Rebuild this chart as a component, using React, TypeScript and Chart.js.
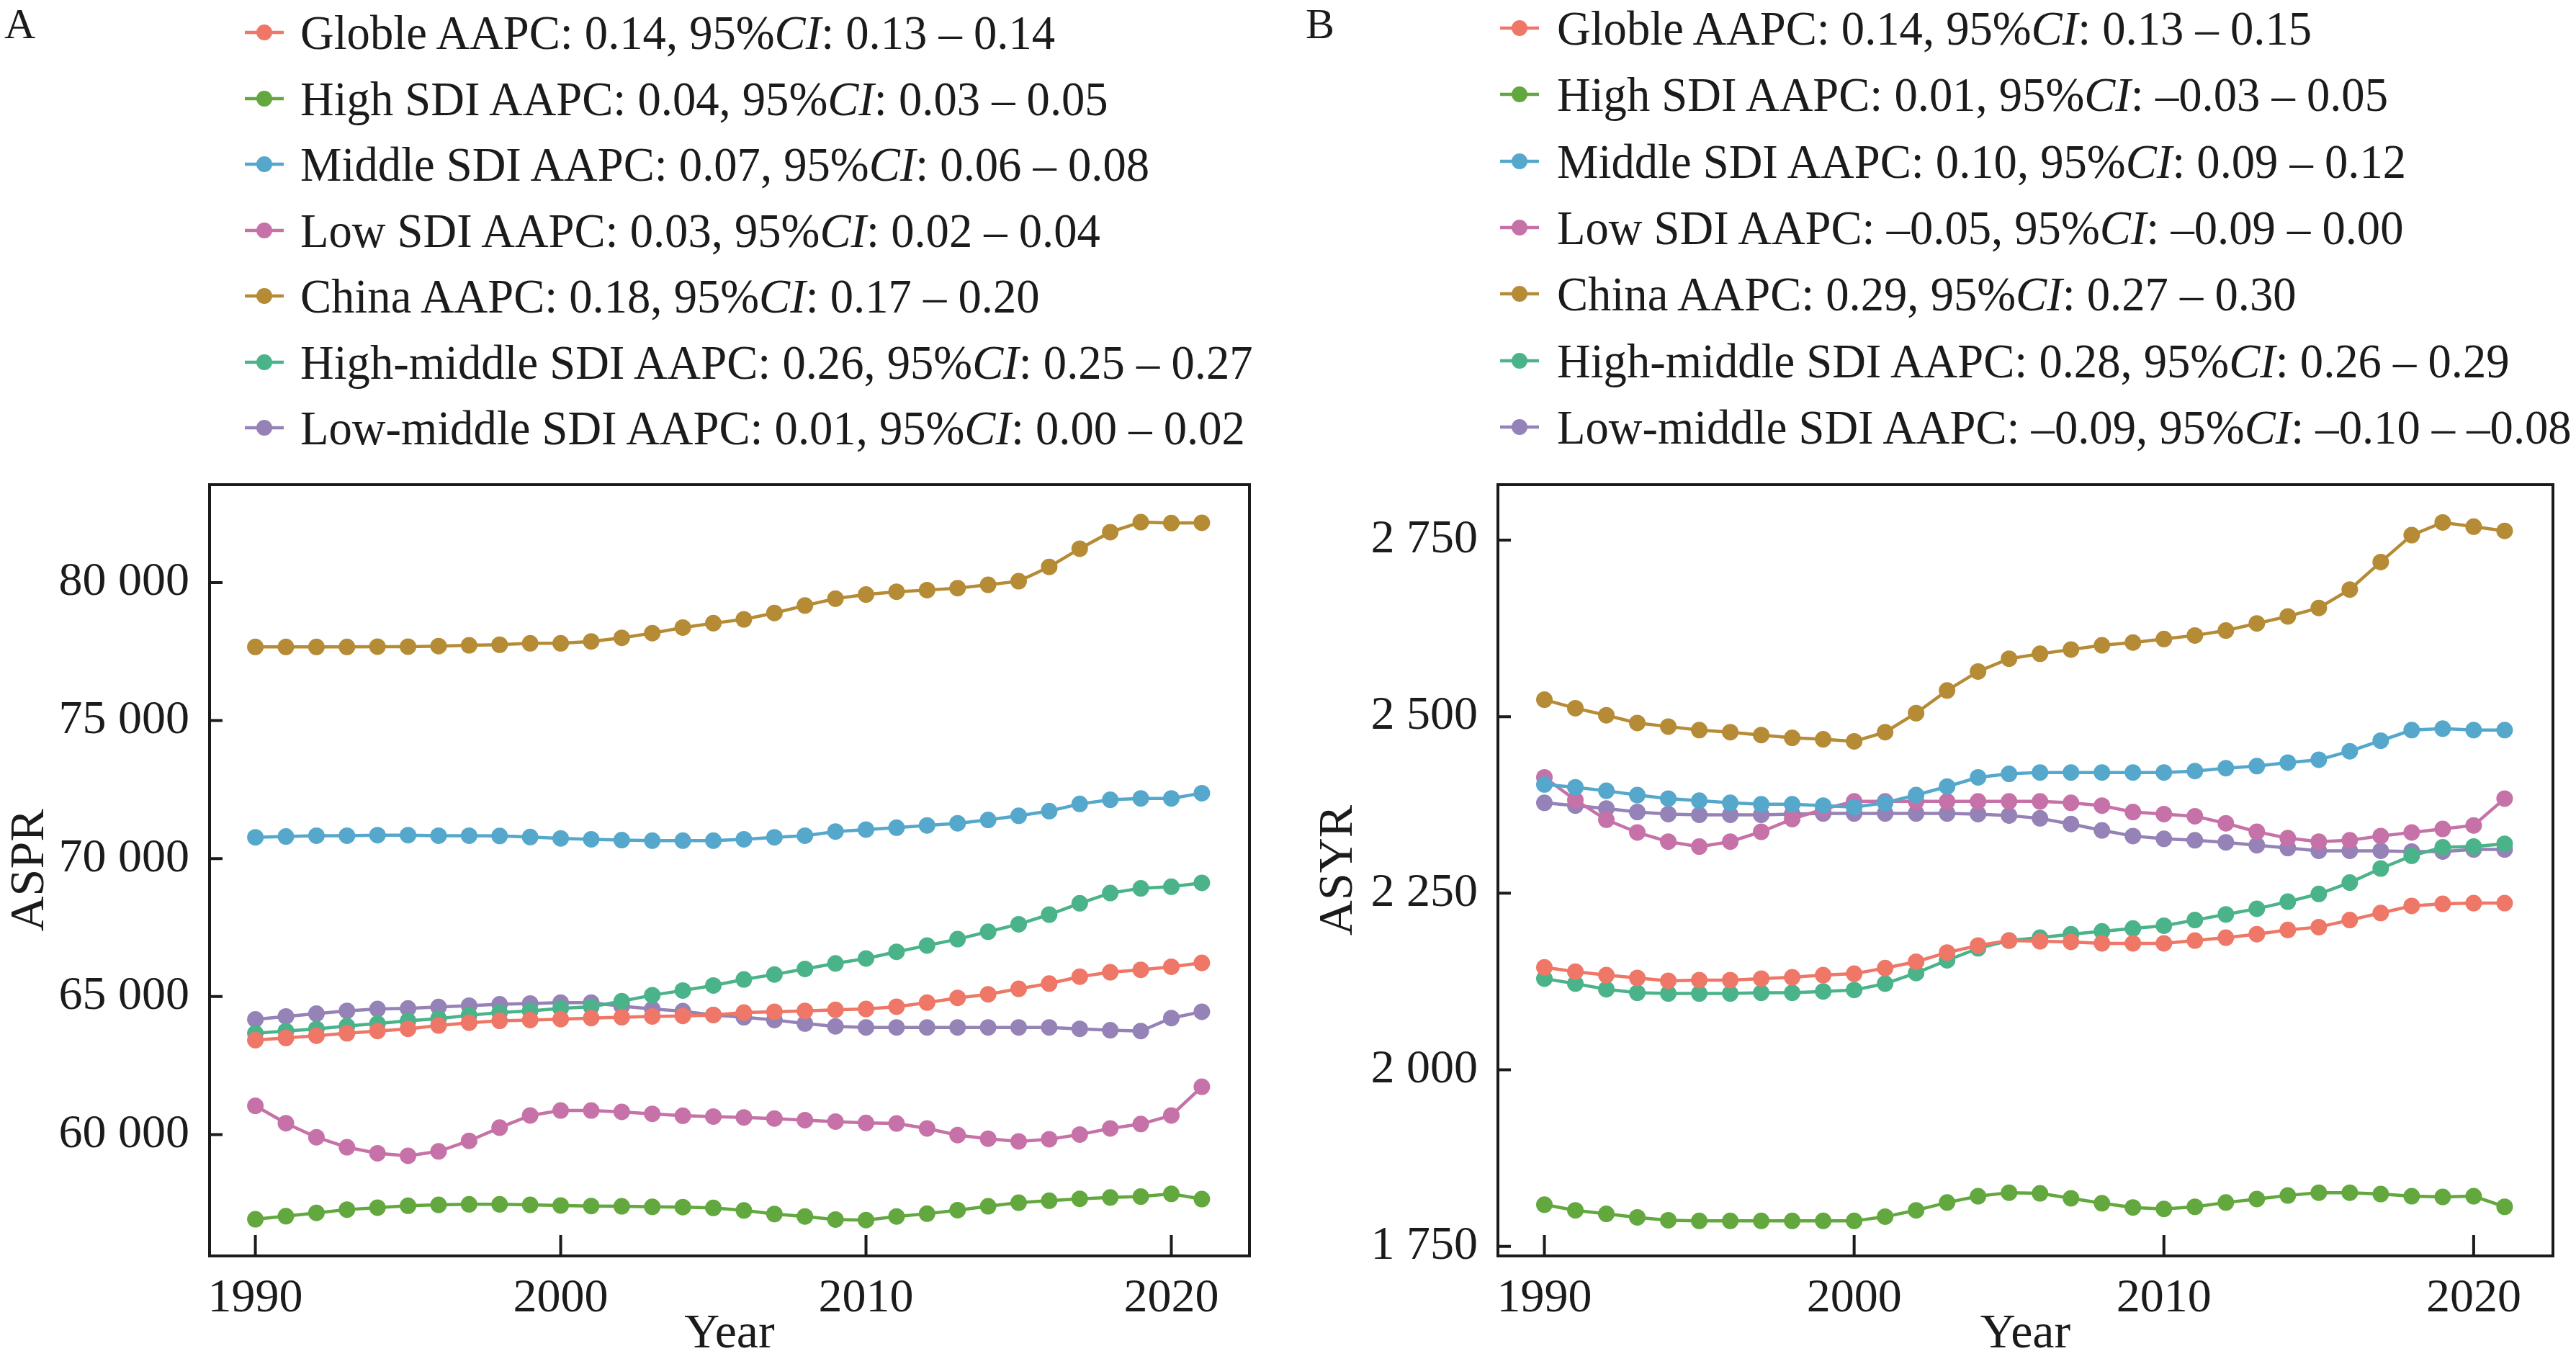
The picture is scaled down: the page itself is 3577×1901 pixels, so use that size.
import React, { useEffect, useRef } from "react";
import { Chart, registerables } from "chart.js";

Chart.register(...registerables);

const FONT = '"Liberation Serif", "Times New Roman", serif';
const INK = "#1c1a1a";

const years = [
  1990, 1991, 1992, 1993, 1994, 1995, 1996, 1997, 1998, 1999,
  2000, 2001, 2002, 2003, 2004, 2005, 2006, 2007, 2008, 2009,
  2010, 2011, 2012, 2013, 2014, 2015, 2016, 2017, 2018, 2019,
  2020, 2021,
];

const seriesNames = ["Globle", "High SDI", "Middle SDI", "Low SDI", "China", "High-middle SDI", "Low-middle SDI"];
const seriesColors = ["#EE7767", "#62A83E", "#55A8CB", "#C672A8", "#B68B35", "#4BB38A", "#9582B6"];

const xTicks = [1990, 2000, 2010, 2020];
const yTicksA = [60000, 65000, 70000, 75000, 80000];
const yTicksB = [1750, 2000, 2250, 2500, 2750];

// Panel A: ASPR
const globalA = [63420, 63500, 63580, 63670, 63750, 63830, 63950, 64050, 64120, 64150, 64180, 64220, 64250, 64280, 64300, 64330, 64420, 64450, 64480, 64520, 64550, 64630, 64780, 64950, 65080, 65280, 65470, 65720, 65880, 65970, 66080, 66220];
const highA = [56930, 57040, 57160, 57280, 57350, 57420, 57450, 57470, 57470, 57450, 57430, 57410, 57400, 57380, 57370, 57340, 57250, 57120, 57030, 56920, 56900, 57030, 57130, 57260, 57400, 57530, 57600, 57670, 57720, 57750, 57850, 57660];
const middleA = [70770, 70800, 70830, 70830, 70850, 70850, 70830, 70830, 70820, 70780, 70730, 70700, 70670, 70650, 70650, 70650, 70700, 70770, 70830, 70980, 71050, 71120, 71200, 71280, 71400, 71550, 71720, 71980, 72130, 72180, 72180, 72370];
const lowA = [61040, 60410, 59900, 59540, 59320, 59230, 59390, 59770, 60250, 60690, 60870, 60870, 60820, 60750, 60680, 60650, 60620, 60580, 60520, 60470, 60420, 60400, 60220, 59980, 59850, 59750, 59830, 60000, 60220, 60380, 60690, 61730];
const chinaA = [77670, 77670, 77670, 77670, 77680, 77680, 77700, 77730, 77750, 77800, 77800, 77870, 78000, 78170, 78370, 78530, 78670, 78900, 79170, 79420, 79570, 79670, 79730, 79800, 79920, 80050, 80570, 81230, 81830, 82190, 82160, 82170];
const highMidA = [63670, 63750, 63830, 63930, 64020, 64120, 64200, 64320, 64420, 64480, 64570, 64630, 64830, 65050, 65220, 65400, 65620, 65800, 66000, 66200, 66380, 66620, 66850, 67080, 67350, 67620, 67970, 68380, 68750, 68920, 68980, 69120];
const lowMidA = [64170, 64280, 64380, 64480, 64550, 64570, 64620, 64670, 64720, 64750, 64780, 64780, 64650, 64550, 64470, 64330, 64250, 64150, 64020, 63920, 63880, 63880, 63880, 63880, 63880, 63880, 63880, 63830, 63780, 63750, 64220, 64450];

// Panel B: ASYR
const globalB = [2145, 2139, 2134, 2130, 2126, 2127, 2127, 2129, 2131, 2134, 2136, 2144, 2153, 2166, 2176, 2183, 2182, 2181, 2179, 2179, 2179, 2183, 2187, 2192, 2198, 2202, 2212, 2222, 2232, 2235, 2236, 2236];
const highB = [1809, 1801, 1796, 1791, 1787, 1786, 1786, 1786, 1786, 1786, 1786, 1792, 1801, 1812, 1821, 1826, 1825, 1818, 1811, 1805, 1803, 1806, 1812, 1817, 1822, 1826, 1826, 1824, 1821, 1820, 1821, 1806];
const middleB = [2404, 2400, 2395, 2389, 2384, 2381, 2378, 2376, 2376, 2374, 2372, 2378, 2389, 2401, 2414, 2419, 2421, 2421, 2421, 2421, 2421, 2423, 2427, 2430, 2435, 2439, 2451, 2466, 2481, 2483, 2481, 2481];
const lowB = [2414, 2382, 2354, 2336, 2323, 2316, 2323, 2337, 2355, 2369, 2380, 2380, 2380, 2380, 2380, 2380, 2380, 2378, 2374, 2365, 2362, 2359, 2349, 2337, 2328, 2323, 2325, 2331, 2336, 2341, 2346, 2384];
const chinaB = [2524, 2512, 2502, 2491, 2486, 2481, 2478, 2474, 2470, 2468, 2465, 2478, 2505, 2537, 2564, 2582, 2589, 2595, 2601, 2605, 2610, 2615, 2622, 2632, 2642, 2654, 2680, 2719, 2757, 2775, 2769, 2763];
const highMidB = [2129, 2122, 2114, 2109, 2108, 2108, 2108, 2109, 2109, 2111, 2113, 2122, 2137, 2155, 2172, 2183, 2187, 2192, 2196, 2200, 2204, 2212, 2220, 2228, 2238, 2249, 2265, 2285, 2303, 2315, 2316, 2320];
const lowMidB = [2378, 2374, 2370, 2365, 2362, 2361, 2361, 2361, 2362, 2363, 2363, 2363, 2363, 2363, 2362, 2360, 2356, 2348, 2339, 2331, 2327, 2325, 2322, 2318, 2314, 2310, 2310, 2310, 2309, 2309, 2312, 2312];

// Legend statistics: AAPC, CI low, CI high
const aapcA = ["0.14", "0.04", "0.07", "0.03", "0.18", "0.26", "0.01"];
const ciLowA = ["0.13", "0.03", "0.06", "0.02", "0.17", "0.25", "0.00"];
const ciHighA = ["0.14", "0.05", "0.08", "0.04", "0.20", "0.27", "0.02"];
const aapcB = ["0.14", "0.01", "0.10", "\u20130.05", "0.29", "0.28", "\u20130.09"];
const ciLowB = ["0.13", "\u20130.03", "0.09", "\u20130.09", "0.27", "0.26", "\u20130.10"];
const ciHighB = ["0.15", "0.05", "0.12", "0.00", "0.30", "0.29", "\u20130.08"];

const seriesA = [globalA, highA, middleA, lowA, chinaA, highMidA, lowMidA];
const seriesB = [globalB, highB, middleB, lowB, chinaB, highMidB, lowMidB];

const fmtThousands = (v: number) => String(Math.round(v)).replace(/\B(?=(\d{3})+(?!\d))/g, " ");

const framePlugin = {
  id: "frameTicks",
  afterDraw(chart: any) {
    const { ctx, chartArea, scales } = chart;
    const { left, right, top, bottom } = chartArea;
    ctx.save();
    ctx.strokeStyle = INK;
    ctx.lineWidth = 4;
    ctx.lineCap = "butt";
    ctx.strokeRect(left, top, right - left, bottom - top);
    ctx.beginPath();
    scales.x.ticks.forEach((t: any) => {
      const x = scales.x.getPixelForValue(t.value);
      ctx.moveTo(x, bottom);
      ctx.lineTo(x, bottom - 29);
    });
    scales.y.ticks.forEach((t: any) => {
      const y = scales.y.getPixelForValue(t.value);
      ctx.moveTo(left, y);
      ctx.lineTo(left + 18, y);
    });
    ctx.stroke();
    ctx.restore();
  },
};

type PanelProps = {
  left: number;
  top: number;
  width: number;
  height: number;
  series: number[][];
  yMin: number;
  yMax: number;
  yTicks: number[];
  yTitle: string;
  padRight: number;
  yWidth: number;
  yTitlePad: number;
};

function Panel(p: PanelProps) {
  const ref = useRef<HTMLCanvasElement>(null);
  useEffect(() => {
    const datasets = p.series.map((vals, i) => ({
      label: seriesNames[i],
      data: vals.map((v, j) => ({ x: years[j], y: v })),
      borderColor: seriesColors[i],
      backgroundColor: seriesColors[i],
      pointBackgroundColor: seriesColors[i],
      pointBorderWidth: 0,
      pointRadius: 11.5,
      pointHoverRadius: 11.5,
      borderWidth: 4.5,
      tension: 0,
      clip: false as any,
    }));
    const chart = new Chart(ref.current as HTMLCanvasElement, {
      type: "line",
      data: { datasets },
      options: {
        responsive: false,
        animation: false,
        devicePixelRatio: 1,
        layout: { padding: { top: 73, right: p.padRight, left: 0, bottom: 0 } },
        plugins: { legend: { display: false }, tooltip: { enabled: false } },
        scales: {
          x: {
            type: "linear",
            min: 1988.5,
            max: 2022.56,
            grid: { display: false },
            border: { display: false },
            afterBuildTicks: (s: any) => {
              s.ticks = xTicks.map((v) => ({ value: v }));
            },
            afterFit: (s: any) => {
              s.height = 157;
            },
            ticks: {
              font: { family: FONT, size: 66 },
              color: INK,
              padding: 12,
              maxRotation: 0,
              autoSkip: false,
              callback: (v: any) => String(v),
            },
            title: {
              display: true,
              text: "Year",
              font: { family: FONT, size: 68 },
              color: INK,
              padding: { top: 0, bottom: 7 },
            },
          },
          y: {
            type: "linear",
            min: p.yMin,
            max: p.yMax,
            grid: { display: false },
            border: { display: false },
            afterBuildTicks: (s: any) => {
              s.ticks = p.yTicks.map((v) => ({ value: v }));
            },
            afterFit: (s: any) => {
              s.width = p.yWidth;
            },
            ticks: {
              font: { family: FONT, size: 66 },
              color: INK,
              padding: 20,
              autoSkip: false,
              callback: (v: any) => fmtThousands(Number(v)),
            },
            title: {
              display: true,
              text: p.yTitle,
              font: { family: FONT, size: 68 },
              color: INK,
              padding: { top: p.yTitlePad, bottom: 0 },
            },
          },
        },
      },
      plugins: [framePlugin],
    });
    return () => chart.destroy();
  }, []);
  return (
    <canvas
      ref={ref}
      width={p.width}
      height={p.height}
      style={{ position: "absolute", left: p.left, top: p.top, width: p.width, height: p.height }}
    />
  );
}

type LegendProps = {
  markerX: number;
  textX: number;
  y0: number;
  step: number;
  aapc: string[];
  lo: string[];
  hi: string[];
};

function Legend(p: LegendProps) {
  return (
    <>
      {seriesNames.map((name, i) => {
        const cy = p.y0 + p.step * i;
        return (
          <React.Fragment key={name}>
            <svg
              width={60}
              height={30}
              style={{ position: "absolute", left: p.markerX - 30, top: cy - 15 }}
            >
              <line x1={3} y1={15} x2={57} y2={15} stroke={seriesColors[i]} strokeWidth={4.5} />
              <circle cx={30} cy={15} r={11} fill={seriesColors[i]} />
            </svg>
            <div
              style={{
                position: "absolute",
                left: p.textX,
                top: cy - 34,
                fontFamily: FONT,
                fontSize: 68,
                lineHeight: "68px",
                color: INK,
                whiteSpace: "nowrap",
                transform: "scaleX(0.95)",
                transformOrigin: "0 50%",
              }}
            >
              {name} AAPC: {p.aapc[i]}, 95%<i>CI</i>: {p.lo[i]} {"\u2013"} {p.hi[i]}
            </div>
          </React.Fragment>
        );
      })}
    </>
  );
}

export default function App() {
  return (
    <div
      style={{
        position: "fixed",
        left: 0,
        top: 0,
        width: 3577,
        height: 1901,
        overflow: "hidden",
        background: "#ffffff",
      }}
    >
      <div style={{ position: "absolute", left: 6, top: 3, fontFamily: FONT, fontSize: 60, lineHeight: "60px", color: INK }}>A</div>
      <div style={{ position: "absolute", left: 1813, top: 3, fontFamily: FONT, fontSize: 60, lineHeight: "60px", color: INK }}>B</div>
      <Legend markerX={367} textX={417} y0={45} step={91.5} aapc={aapcA} lo={ciLowA} hi={ciHighA} />
      <Legend markerX={2110} textX={2162} y0={39} step={92.3} aapc={aapcB} lo={ciLowB} hi={ciHighB} />
      <Panel
        left={0}
        top={600}
        width={1790}
        height={1301}
        series={seriesA}
        yMin={55600}
        yMax={83550}
        yTicks={yTicksA}
        yTitle="ASPR"
        padRight={55}
        yWidth={291}
        yTitlePad={1}
      />
      <Panel
        left={1790}
        top={600}
        width={1787}
        height={1301}
        series={seriesB}
        yMin={1736.4}
        yMax={2828.5}
        yTicks={yTicksB}
        yTitle="ASYR"
        padRight={32}
        yWidth={290}
        yTitlePad={28}
      />
    </div>
  );
}
